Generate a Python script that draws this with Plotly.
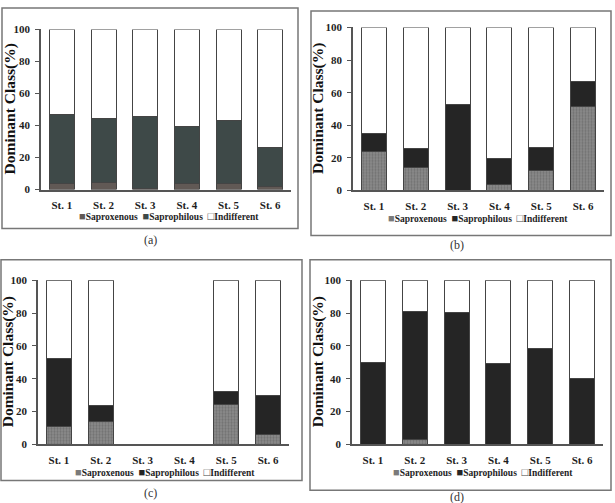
import plotly.graph_objects as go

W, H = 615, 503

stations = ["St. 1", "St. 2", "St. 3", "St. 4", "St. 5", "St. 6"]
y_ticks = [0, 20, 40, 60, 80, 100]

# Panel (a)
a_saproxenous = [3.5, 4.5, 0.5, 4.0, 3.5, 2.0]
a_saprophilous = [43.5, 40.0, 45.0, 35.5, 39.5, 24.5]
a_indifferent = [53.0, 55.5, 54.5, 60.5, 57.0, 73.5]

# Panel (b)
b_saproxenous = [24.0, 14.0, 0.0, 3.5, 12.0, 51.5]
b_saprophilous = [11.0, 11.5, 53.0, 16.0, 14.5, 15.5]
b_indifferent = [65.0, 74.5, 47.0, 80.5, 73.5, 33.0]

# Panel (c)  (no data at St. 3 and St. 4)
c_saproxenous = [11.0, 14.0, None, None, 24.5, 6.0]
c_saprophilous = [41.5, 9.5, None, None, 7.5, 24.0]
c_indifferent = [47.5, 76.5, None, None, 68.0, 70.0]

# Panel (d)
d_saproxenous = [0.0, 3.0, 0.0, 0.0, 0.0, 0.0]
d_saprophilous = [50.0, 78.0, 80.5, 49.5, 58.5, 40.0]
d_indifferent = [50.0, 19.0, 19.5, 50.5, 41.5, 60.0]

series_names = ["Saproxenous", "Saprophilous", "Indifferent"]
captions = ["(a)", "(b)", "(c)", "(d)"]

FONT = "Liberation Serif, Times New Roman, serif"

# layout in pixels: (x0, x1, ytop, ybottom) of plot area
panels = [
    dict(plot=(41, 291, 24, 188), frame=(2, 298, 2, 228), cap=(150, 240),
         leg=(169, 215), title_x=10,
         data=(a_saproxenous, a_saprophilous, a_indifferent),
         colors=("#615955", "#3e4948", "#ffffff"), pattern=False),
    dict(plot=(353, 604, 22, 189), frame=(311, 611, 5, 235), cap=(457, 245),
         leg=(478, 217), title_x=318,
         data=(b_saproxenous, b_saprophilous, b_indifferent),
         colors=("#7a7a7a", "#252525", "#ffffff"), pattern=True),
    dict(plot=(38, 289, 281, 449), frame=(1, 302, 260, 486), cap=(150, 499),
         leg=(165, 477), title_x=8,
         data=(c_saproxenous, c_saprophilous, c_indifferent),
         colors=("#7a7a7a", "#252525", "#ffffff"), pattern=True),
    dict(plot=(352, 603, 281, 449), frame=(310, 611, 260, 496), cap=(457, 503),
         leg=(483, 477), title_x=318,
         data=(d_saproxenous, d_saprophilous, d_indifferent),
         colors=("#7a7a7a", "#252525", "#ffffff"), pattern=True),
]


def px(x):
    return x / W


def py(y):
    return 1 - y / H


def bold(s):
    return f"<b>{s}</b>"


fig = go.Figure()
shapes = []
annotations = []
layout = {}

for i, p in enumerate(panels):
    n = "" if i == 0 else str(i + 1)
    x0, x1, yt, yb = p["plot"]
    for k, (vals, name, col) in enumerate(zip(p["data"], series_names, p["colors"])):
        marker = dict(color=col, line=dict(color="#444444", width=1))
        if p["pattern"] and k == 0:
            marker["pattern"] = dict(shape=".", fgcolor="#555555", bgcolor="#8c8c8c",
                                     size=3, solidity=0.45)
        fig.add_trace(go.Bar(x=stations, y=vals, name=name, marker=marker,
                             xaxis="x" + n, yaxis="y" + n, showlegend=False,
                             width=0.6))
    layout["xaxis" + n] = dict(
        domain=[px(x0), px(x1)], anchor="y" + n, type="category",
        range=[-0.5, 5.5], showline=True, linecolor="#555555", linewidth=1.5,
        ticks="", showgrid=False, ticklabelstandoff=5,
        tickvals=stations, ticktext=[bold(s) for s in stations],
        tickfont=dict(family=FONT, size=11, color="#1e1e1e"),
        fixedrange=True)
    layout["yaxis" + n] = dict(
        domain=[py(yb), py(yt)], anchor="x" + n, range=[0, 100],
        tickvals=y_ticks, ticktext=[bold(v) for v in y_ticks],
        showline=True, linecolor="#555555", linewidth=1.5,
        ticks="outside", ticklen=4, tickcolor="#555555", showgrid=False,
        zeroline=False, ticklabelstandoff=3,
        tickfont=dict(family=FONT, size=11, color="#1e1e1e"),
        fixedrange=True)
    # y-axis title
    annotations.append(dict(
        text=bold("Dominant Class(%)"), x=px(p["title_x"]), y=py((yt + yb) / 2),
        xref="paper", yref="paper", textangle=-90, showarrow=False,
        xanchor="center", yanchor="middle",
        font=dict(family=FONT, size=15.5, color="#111111")))
    # legend row
    c0, c1, c2 = p["colors"]
    sq = "<span style='font-size:11px;color:{c}'>{g}</span>"
    leg_text = ("<b>" + sq.format(c=c0, g="■") + series_names[0] + "  "
                + sq.format(c=c1, g="■") + series_names[1] + "  "
                + sq.format(c="#444444", g="□") + series_names[2] + "</b>")
    annotations.append(dict(
        text=leg_text, x=px(p["leg"][0]), y=py(p["leg"][1]),
        xref="paper", yref="paper", showarrow=False,
        xanchor="center", yanchor="middle",
        font=dict(family=FONT, size=9.5, color="#1e1e1e")))
    # caption
    annotations.append(dict(
        text=captions[i], x=px(p["cap"][0]), y=py(p["cap"][1]),
        xref="paper", yref="paper", showarrow=False,
        xanchor="center", yanchor="middle",
        font=dict(family=FONT, size=12, color="#333333")))
    # frame
    fx0, fx1, fy0, fy1 = p["frame"]
    shapes.append(dict(type="rect", xref="paper", yref="paper",
                       x0=px(fx0), x1=px(fx1), y0=py(fy1), y1=py(fy0),
                       line=dict(color="#777777", width=1.5)))

fig.update_layout(
    width=W, height=H, margin=dict(l=0, r=0, t=0, b=0),
    paper_bgcolor="white", plot_bgcolor="white",
    barmode="stack", bargap=0.4, shapes=shapes, annotations=annotations,
    **layout)

fig.write_html("out.html", config=dict(displayModeBar=False))
